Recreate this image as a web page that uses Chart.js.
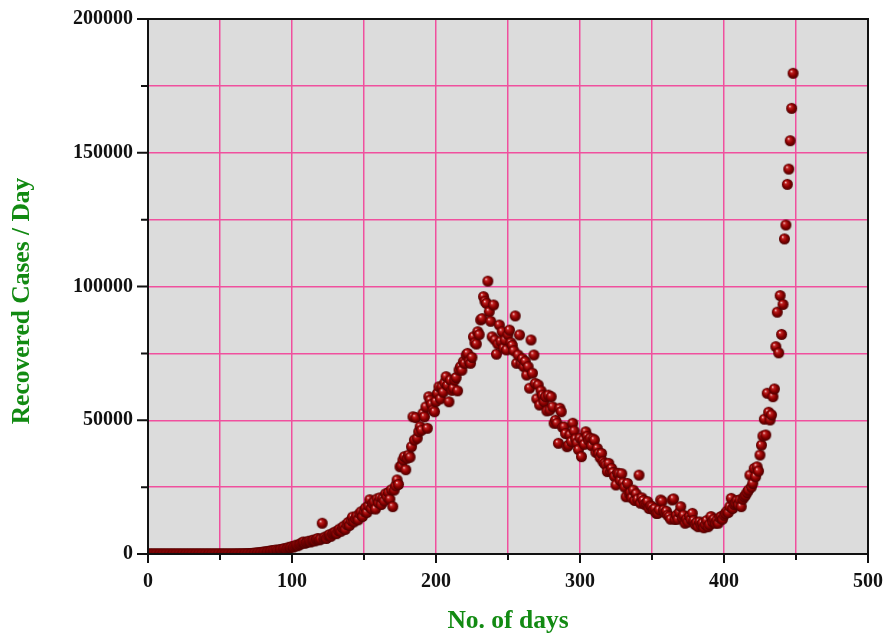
<!DOCTYPE html>
<html>
<head>
<meta charset="utf-8">
<script src="https://cdn.jsdelivr.net/npm/chart.js@4"></script>
<style>
  html, body { margin: 0; padding: 0; background: #fff; }
  #wrap { width: 887px; height: 640px; }
</style>
</head>
<body>
<div id="wrap"><canvas id="chart" width="887" height="640"></canvas></div>
<script>
// recovered cases per day, in thousands, one value per day starting at day 0
let recoveredK = [
  0,0,0,0,0,0,0,0,0,0,
  0,0,0,0,0,0,0,0,0,0,
  0,0,0,0,0,0,0,0,0,0,
  0,0,0,0,0,0,0,0,0,0,
  0,0,0,0,0,0,0,0,0,0.01,
  0,0,0,0,0,0.01,0.01,0.01,0.02,0.02,
  0.02,0.03,0.03,0.04,0.05,0.05,0.07,0.08,0.1,0.12,
  0.15,0.18,0.2,0.25,0.3,0.35,0.4,0.45,0.5,0.6,
  0.7,0.75,0.8,0.9,1.0,1.1,1.2,1.3,1.1,1.5,
  1.3,1.5,1.7,1.6,1.9,2.0,1.8,2.2,2.5,2.4,
  2.8,2.6,3.0,3.3,3.1,3.5,3.8,4.2,4.5,4.0,
  4.3,4.6,4.8,4.5,5.0,5.2,4.9,5.5,5.8,5.3,
  5.6,11.5,6.0,6.3,5.8,6.8,7.2,6.6,7.5,7.9,
  8.2,7.6,8.8,9.3,8.5,9.8,10.4,9.2,11.0,11.8,
  10.7,12.5,13.8,12.0,13.2,14.2,12.8,15.0,15.8,14.0,
  16.0,17.2,15.5,18.0,20.3,17.0,18.8,19.5,16.8,20.6,
  19.2,21.0,18.5,20.8,19.8,22.5,21.3,23.0,20.5,24.0,
  17.7,23.9,25.5,27.7,26.0,32.6,33.0,35.1,36.4,31.5,
  35.8,37.0,36.2,40.1,51.3,42.6,51.0,43.3,45.7,47.6,
  46.3,52.6,51.3,55.0,47.0,58.8,57.5,56.0,53.8,53.2,
  57.0,60.1,62.5,58.0,62.5,60.5,64.0,66.3,63.0,56.9,
  65.0,61.2,62.0,65.0,66.0,61.0,68.8,70.0,68.7,71.9,
  71.3,74.4,75.0,72.0,71.3,73.5,81.2,79.0,78.5,83.1,
  82.0,87.5,88.0,96.2,94.5,93.7,102.0,90.6,87.0,81.2,
  93.1,80.0,74.7,78.5,85.6,79.5,83.1,77.0,80.0,76.3,
  82.0,83.7,79.0,78.0,76.0,89.0,71.3,74.4,81.9,71.3,
  73.0,70.0,72.0,66.9,70.0,62.0,80.0,67.6,74.4,63.8,
  58.0,63.2,55.7,61.0,59.4,57.0,58.8,53.5,59.4,53.8,
  58.8,55.0,48.9,50.0,48.9,41.4,54.5,53.2,47.3,47.5,
  45.0,40.1,40.7,44.5,42.0,48.9,46.0,43.0,41.5,39.0,
  43.3,36.4,42.6,41.0,45.7,44.0,42.5,43.3,40.5,43.0,
  42.6,38.0,39.5,37.6,36.0,37.6,34.5,33.9,33.3,30.8,
  33.9,31.0,32.0,30.5,29.0,25.8,30.2,30.0,27.5,30.0,
  26.6,25.0,21.4,26.4,22.5,23.0,21.0,23.9,20.0,22.5,
  20.5,29.5,19.0,21.0,20.0,18.5,18.9,19.6,17.0,18.0,
  17.7,16.5,17.0,15.2,15.2,16.5,20.2,19.7,16.4,15.5,
  16.0,14.5,14.0,13.0,20.2,20.6,12.9,14.5,13.0,15.5,
  17.7,13.5,14.5,11.5,13.0,12.0,14.0,12.9,15.2,12.5,
  11.0,11.8,10.2,12.0,10.8,11.5,9.8,11.0,12.5,10.2,
  11.0,14.0,12.0,13.0,11.5,12.5,11.5,13.5,14.0,13.0,
  14.5,15.2,16.0,15.5,17.7,20.8,17.0,18.5,19.0,20.0,
  18.5,20.2,17.7,20.5,21.4,22.0,23.0,23.9,29.5,25.0,
  26.4,32.0,28.9,32.6,31.0,37.0,40.7,44.1,50.4,44.5,
  60.1,53.0,50.1,52.0,58.8,61.7,77.5,90.4,75.2,96.6,
  82.1,93.3,117.8,123.0,138.2,143.9,154.5,166.6,179.7
];
let xTicks = [0, 100, 200, 300, 400, 500];
let yTicks = [0, 50000, 100000, 150000, 200000];
let yTitle = 'Recovered Cases / Day';

let points = recoveredK.map((v, i) => ({x: i, y: v * 1000}));

// little shaded ball used as marker
function makeBall(r) {
  let c = document.createElement('canvas');
  c.width = r * 2 + 2; c.height = r * 2 + 2;
  let g = c.getContext('2d');
  let cx = r + 1, cy = r + 1;
  let grad = g.createRadialGradient(cx - r * 0.35, cy - r * 0.4, 0.3, cx, cy, r);
  grad.addColorStop(0, '#f6d0d0');
  grad.addColorStop(0.22, '#c02020');
  grad.addColorStop(0.6, '#8a0000');
  grad.addColorStop(1, '#4a0000');
  g.fillStyle = grad;
  g.beginPath(); g.arc(cx, cy, r, 0, Math.PI * 2); g.fill();
  return c;
}
let ball = makeBall(5.5);

const serif = '"Liberation Serif", "Times New Roman", serif';
const tickFont = {family: serif, size: 20, weight: 'bold'};
const titleFont = {family: serif, size: 25.5, weight: 'bold'};

const plotBg = {
  id: 'plotBg',
  beforeDraw(chart) {
    let {ctx, chartArea: a} = chart;
    ctx.save();
    ctx.fillStyle = '#dcdcdc';
    ctx.fillRect(a.left, a.top, a.right - a.left, a.bottom - a.top);
    ctx.restore();
  },
  afterDraw(chart) {
    let {ctx, chartArea: a, scales} = chart;
    ctx.save();
    ctx.strokeStyle = '#111';
    ctx.lineWidth = 2;
    ctx.strokeRect(a.left, a.top, a.right - a.left, a.bottom - a.top);
    ctx.beginPath();
    for (let v = 0; v <= 500; v += 50) {
      let px = scales.x.getPixelForValue(v);
      let len = v % 100 === 0 ? 9 : 6;
      ctx.moveTo(px, a.bottom); ctx.lineTo(px, a.bottom + len);
    }
    for (let v = 0; v <= 200000; v += 25000) {
      let py = scales.y.getPixelForValue(v);
      let len = v % 50000 === 0 ? 11 : 7;
      ctx.moveTo(a.left, py); ctx.lineTo(a.left - len, py);
    }
    ctx.stroke();
    // y axis title, sits a bit below the middle like the original
    ctx.translate(22, 301);
    ctx.rotate(-Math.PI / 2);
    ctx.font = 'bold 25.5px ' + serif;
    ctx.fillStyle = '#128a12';
    ctx.textAlign = 'center';
    ctx.textBaseline = 'middle';
    ctx.fillText(yTitle, 0, 0);
    ctx.restore();
  }
};

new Chart(document.getElementById('chart'), {
  type: 'scatter',
  data: {
    datasets: [{
      label: 'Recovered',
      data: points,
      pointStyle: ball,
      pointRadius: 5.5,
      pointHoverRadius: 5.5
    }]
  },
  options: {
    responsive: false,
    animation: false,
    events: [],
    layout: {padding: {top: 19, right: 19, left: 0, bottom: 0}},
    plugins: {legend: {display: false}, tooltip: {enabled: false}},
    scales: {
      x: {
        type: 'linear', min: 0, max: 500,
        afterFit(s) { s.height = 86; s.paddingLeft = 0; s.paddingRight = 0; },
        ticks: {
          stepSize: 50,
          color: '#111',
          font: tickFont,
          padding: 16,
          maxRotation: 0,
          callback: v => xTicks.includes(v) ? String(v) : ''
        },
        grid: {color: '#f0509e', lineWidth: 1.5, drawTicks: false},
        border: {display: false},
        title: {display: true, text: 'No. of days', color: '#128a12', font: titleFont, padding: {top: 0, bottom: 3}}
      },
      y: {
        type: 'linear', min: 0, max: 200000,
        afterFit(s) { s.width = 148; s.paddingTop = 0; s.paddingBottom = 0; },
        ticks: {
          stepSize: 25000,
          color: '#111',
          font: tickFont,
          padding: 15,
          callback: v => yTicks.includes(v) ? String(v) : ''
        },
        grid: {color: '#f0509e', lineWidth: 1.5, drawTicks: false},
        border: {display: false}
      }
    }
  },
  plugins: [plotBg]
});
</script>
</body>
</html>
